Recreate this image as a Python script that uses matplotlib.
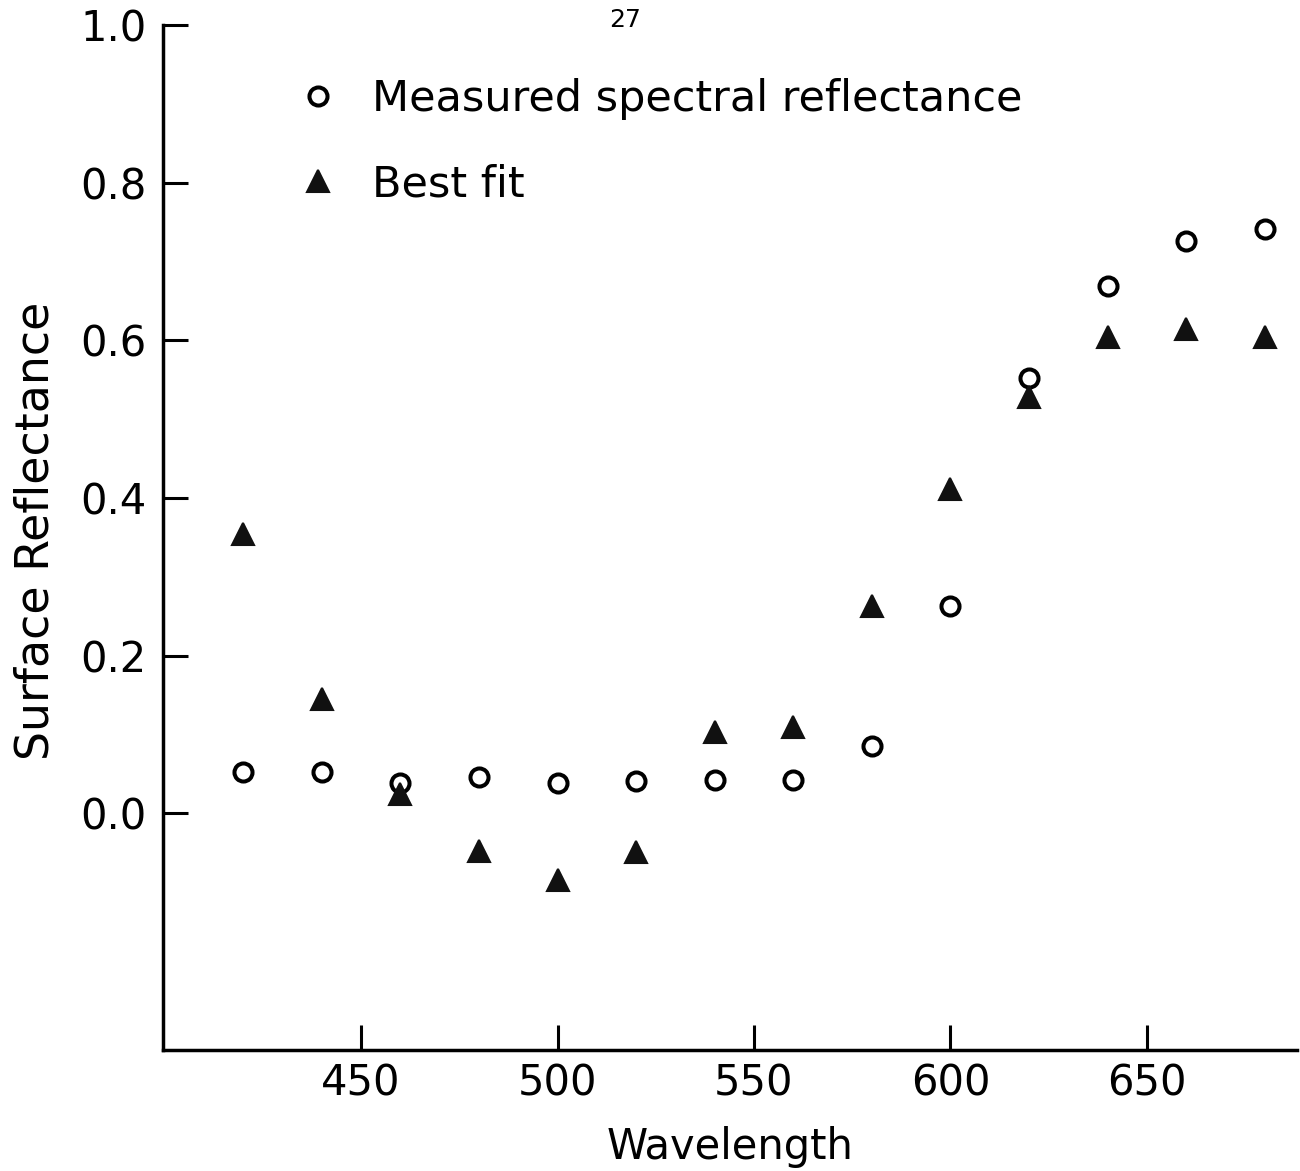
import matplotlib
matplotlib.use('Agg')
import matplotlib.pyplot as plt

# wavelengths (nm) and reflectance values
wavelength = [420, 440, 460, 480, 500, 520, 540, 560, 580, 600, 620, 640, 660, 680]
measured = [0.052, 0.052, 0.039, 0.046, 0.039, 0.041, 0.042, 0.042,
            0.086, 0.263, 0.552, 0.669, 0.726, 0.741]
best_fit = [0.355, 0.145, 0.025, -0.047, -0.084, -0.049, 0.103, 0.110,
            0.263, 0.412, 0.528, 0.604, 0.615, 0.604]

x_ticks = [450, 500, 550, 600, 650]
y_ticks = [0.0, 0.2, 0.4, 0.6, 0.8, 1.0]
y_tick_labels = ['0.0', '0.2', '0.4', '0.6', '0.8', '1.0']


def main():
    plt.rcParams['font.family'] = ['DejaVu Sans']
    fig = plt.figure(figsize=(13, 11.71), dpi=100)
    ax = fig.add_axes([0.1254, 0.1033, 0.8723, 0.8754])

    # measured points are open circles, the fit is filled triangles
    ax.plot(wavelength, measured, linestyle='none', marker='o', markersize=13,
            markerfacecolor='white', markeredgecolor='black', markeredgewidth=2.9,
            label='Measured spectral reflectance', zorder=3)
    ax.plot(wavelength, best_fit, linestyle='none', marker='^', markersize=16,
            markerfacecolor='#111111', markeredgecolor='#111111', markeredgewidth=1.5,
            label='Best fit', zorder=4)

    ax.set_xlim(399.6, 688.2)
    ax.set_ylim(-0.30, 1.0)

    for side in ['top', 'right']:
        ax.spines[side].set_visible(False)
    for side in ['left', 'bottom']:
        ax.spines[side].set_linewidth(2.5)

    ax.set_xticks(x_ticks)
    ax.set_yticks(y_ticks)
    ax.set_yticklabels(y_tick_labels)
    ax.tick_params(axis='both', direction='in', length=18, width=2.2,
                   labelsize=30)
    ax.tick_params(axis='y', pad=12)
    ax.tick_params(axis='x', pad=9)

    ax.set_xlabel('Wavelength', fontsize=30)
    ax.xaxis.set_label_coords(0.5, -0.074)
    ax.xaxis.label.set_va('top')
    ax.set_ylabel('Surface Reflectance', fontsize=33)
    ax.yaxis.set_label_coords(-0.092, 0.507)

    ax.legend(loc='upper left', bbox_to_anchor=(0.118, 0.948), frameon=False,
              fontsize=31, handlelength=1.0, handletextpad=0.75,
              labelspacing=1.0, borderpad=0, borderaxespad=0)

    # page number of the scan
    fig.text(625 / 1300, 1 - 20 / 1171, '27', fontsize=18,
             ha='center', va='center')

    fig.savefig('out.png', dpi=100)


if __name__ == "__main__":
    main()
